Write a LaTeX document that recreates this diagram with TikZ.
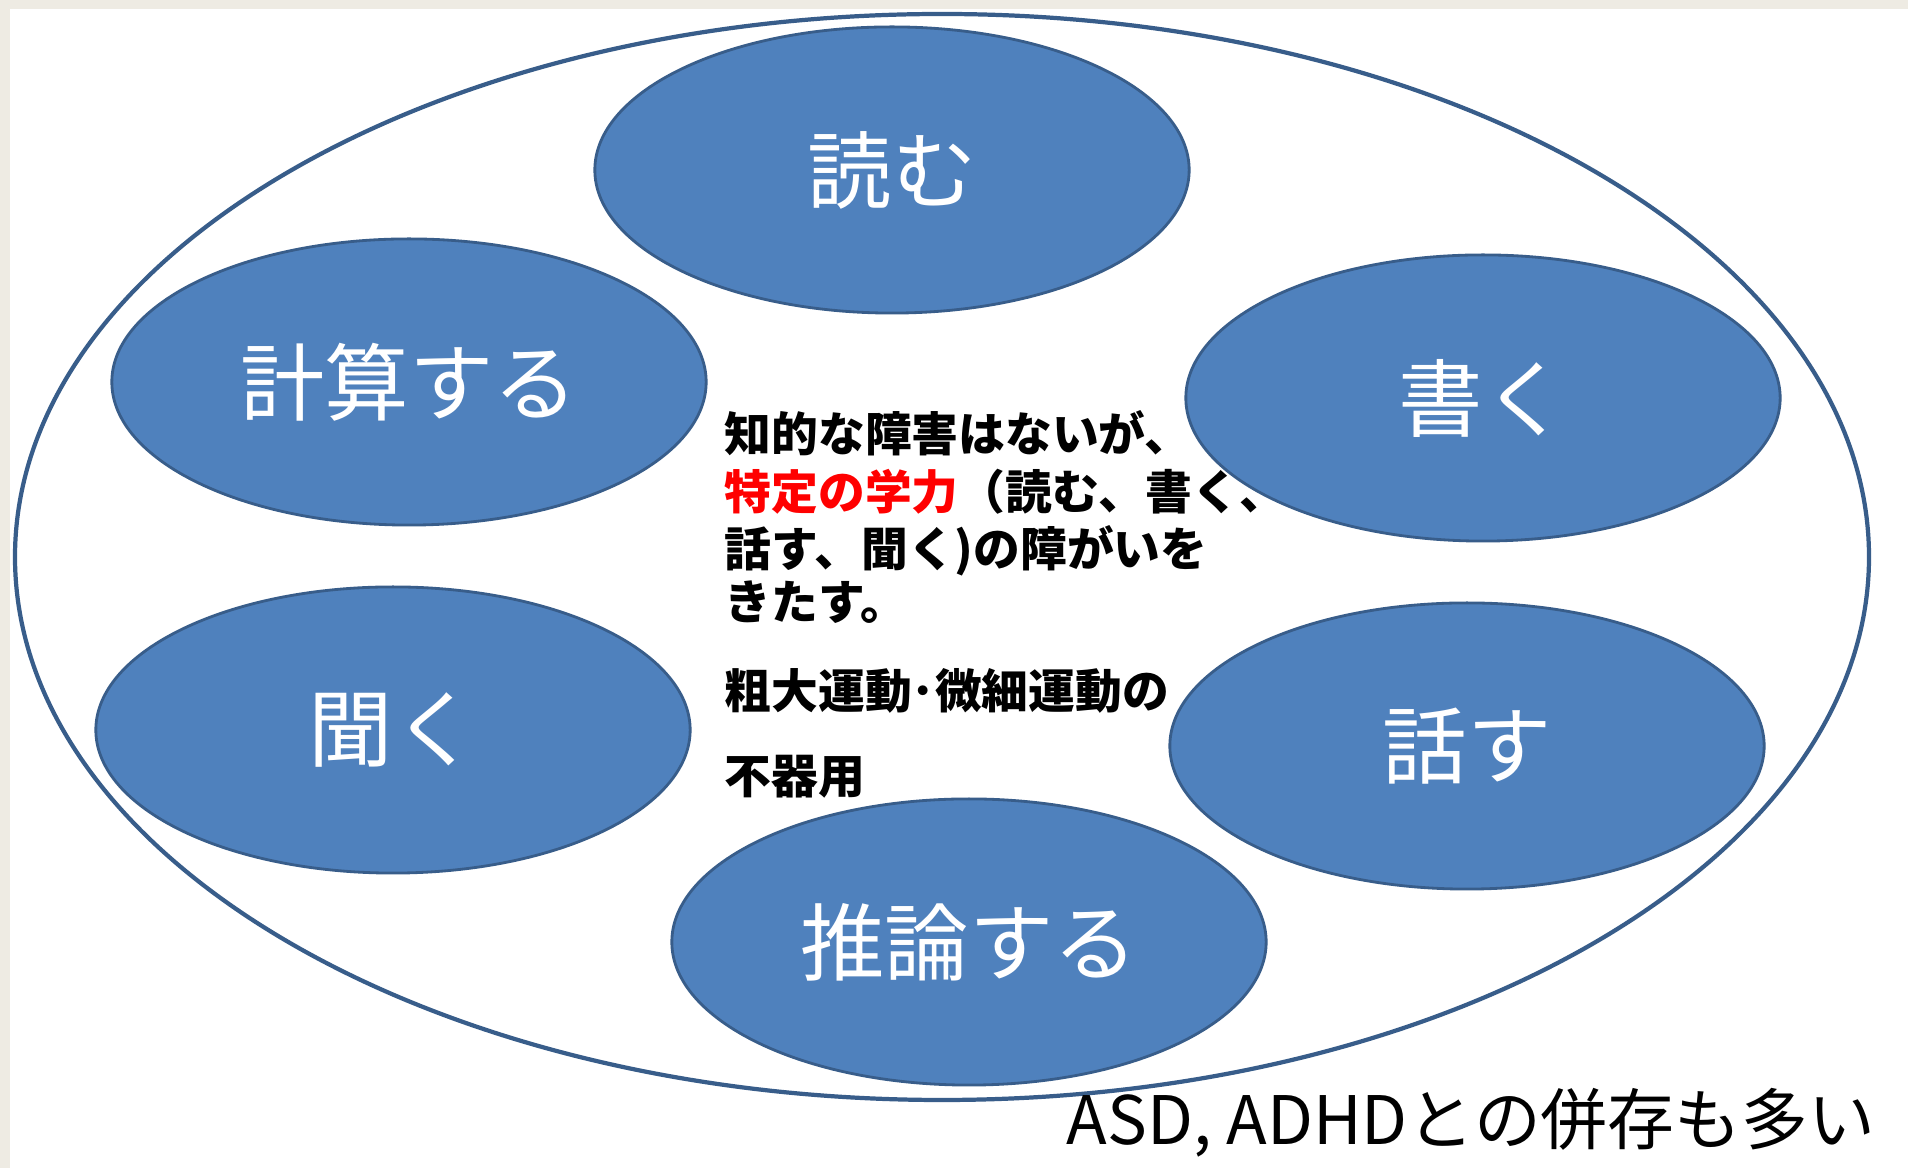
\documentclass[tikz,border=0pt]{standalone}
\usepackage{fontspec}
\setmainfont{Noto Sans CJK JP}
\usetikzlibrary{shapes.geometric}

\definecolor{slidebg}{RGB}{238,235,227}
\definecolor{ovalblue}{RGB}{79,129,189}
\definecolor{ovaledge}{RGB}{56,93,138}

\tikzset{
    oval/.style={ellipse, draw=ovaledge, line width=0.8pt, fill=ovalblue,
        minimum width=5.94cm, minimum height=2.86cm, inner sep=0pt,
        text=white, font=\fontsize{24}{28}\selectfont},
    ring/.style={draw=ovaledge, line width=1.2pt},
    noteline/.style={anchor=base west, inner sep=0pt,
        font=\bfseries\fontsize{13.3}{16}\selectfont},
}

\begin{document}
\begin{tikzpicture}[x=0.01cm, y=-0.01cm]
    % Define points
    \coordinate (NW) at (0,0);
    \coordinate (SE) at (1908,1168);
    \coordinate (P) at (10,9);
    \coordinate (O) at (942,557);
    % Draw background
    \fill[slidebg] (NW) rectangle (SE);
    \fill[white] (P) rectangle (SE);
    \useasboundingbox (NW) rectangle (SE);
    % Draw the big ring
    \draw[ring] (O) ellipse[x radius=927, y radius=543];

    % Draw 6 ovals
    \foreach \n/\px/\py/\txt in {read/892/170/読む, calc/409/382/計算する,
        write/1483/398/書く, listen/393/730/聞く, speak/1467/746/話す,
        infer/969/942/推論する} {
        \node[oval] (\n) at (\px,\py) {\txt};
    }
    % Text in the middle, one node per line
    \foreach \py/\txt [count=\i] in {452/{知的な障害はないが、},
        510/{\textcolor{red}{特定の学力}（読む、書く、},
        567/{話す、聞く)の障がいを}, 620/{きたす。},
        709/{粗大運動･微細運動の}, 794/{不器用}} {
        \node[noteline] (note\i) at (724,\py) {\txt};
    }
    \node[anchor=base west, inner sep=0pt, font=\fontsize{19}{22}\selectfont]
        (comorb) at (1066,1145) {ASD, ADHDとの併存も多い};
\end{tikzpicture}
\end{document}
